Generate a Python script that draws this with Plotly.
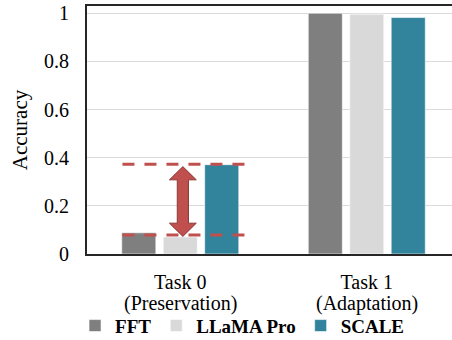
import plotly.graph_objects as go

task_labels = ["Task 0", "Task 1"]
task_roles = ["(Preservation)", "(Adaptation)"]
series_names = ["FFT", "LLaMA Pro", "SCALE"]
fft = [0.088, 1.0]
llama_pro = [0.071, 0.996]
scale = [0.371, 0.982]
gap_levels = [0.079, 0.373]   # dashed reference lines (FFT level, SCALE level) on Task 0
y_ticks = [0, 0.2, 0.4, 0.6, 0.8, 1]
y_tick_labels = ["0", "0.2", "0.4", "0.6", "0.8", "1"]

colors = ["#7F7F7F", "#D9D9D9", "#31849B"]
FONT = "Liberation Serif"
xpos = list(range(len(task_labels)))

fig = go.Figure()
for name, vals, c in zip(series_names, [fft, llama_pro, scale], colors):
    fig.add_trace(go.Bar(
        x=xpos, y=vals, name=name,
        marker=dict(color=c, line=dict(color="rgba(255,255,255,0.6)", width=1)),
    ))

# dashed lines across Task 0 group
for lvl in gap_levels:
    fig.add_shape(type="line", xref="x", yref="y",
                  x0=-0.31, x1=0.36, y0=lvl, y1=lvl,
                  line=dict(color="#C0504D", width=3, dash="12px,10px"))

# double-headed arrow between the two levels
xc = 0.014
hw, sw = 0.072, 0.03
lo, hi = gap_levels[0] - 0.006, gap_levels[1] - 0.01
hh = 0.055
path = (f"M{xc},{hi} L{xc+hw},{hi-hh} L{xc+sw},{hi-hh} L{xc+sw},{lo+hh} "
        f"L{xc+hw},{lo+hh} L{xc},{lo} L{xc-hw},{lo+hh} L{xc-sw},{lo+hh} "
        f"L{xc-sw},{hi-hh} L{xc-hw},{hi-hh} Z")
fig.add_shape(type="path", xref="x", yref="y", path=path,
              fillcolor="#C0504D", line=dict(color="#8C3836", width=1))

# second line of category labels
for xp, role in zip(xpos, task_roles):
    fig.add_annotation(x=xp, xref="x", y=-0.198, yref="paper", yanchor="middle",
                       text=role, showarrow=False, borderpad=0,
                       font=dict(family=FONT, size=20, color="black"))

fig.update_layout(
    width=452, height=340,
    margin=dict(l=87, r=0, t=6, b=86),
    paper_bgcolor="white", plot_bgcolor="white",
    barmode="group", bargap=0.333, bargroupgap=0.178,
    font=dict(family=FONT, size=20, color="black"),
    showlegend=True,
    legend=dict(orientation="h", xref="container", yref="container",
                x=0.166, xanchor="left", y=0.042, yanchor="middle",
                font=dict(family=FONT, size=19, color="black", weight="bold"),
                itemwidth=30, traceorder="normal", tracegroupgap=0,
                bgcolor="rgba(0,0,0,0)"),
)
fig.update_xaxes(
    range=[-0.5, 1.457], tickmode="array", tickvals=xpos, ticktext=task_labels,
    showline=True, linecolor="#262626", linewidth=2, mirror=True,
    ticks="", showgrid=False, tickfont=dict(family=FONT, size=20),
    automargin=False, ticklabelstandoff=9,
)
fig.update_yaxes(
    range=[0, 1.03], tickmode="array", tickvals=y_ticks, ticktext=y_tick_labels,
    showline=True, linecolor="#262626", linewidth=2, mirror=False,
    showgrid=True, gridcolor="#D9D9D9", gridwidth=1, zeroline=False,
    ticks="", tickfont=dict(family=FONT, size=20), automargin=False,
    ticklabelstandoff=12,
    title=dict(text="Accuracy", font=dict(family=FONT, size=21), standoff=11),
)

fig.write_html("out.html", config={"displayModeBar": False},
               post_script="document.body.style.margin='0px';")
